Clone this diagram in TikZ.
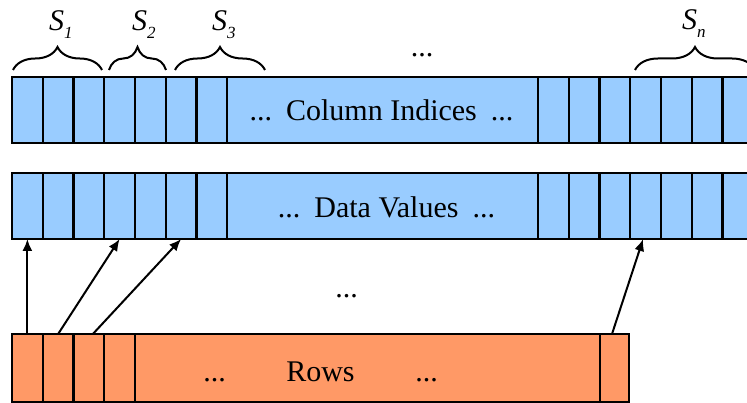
\documentclass[tikz,border=0pt]{standalone}
\usepackage{fontspec}
\setmainfont{Liberation Serif}
\usetikzlibrary{decorations.pathreplacing,arrows.meta,calc}
\definecolor{cellblue}{HTML}{99CCFF}
\definecolor{cellorange}{HTML}{FF9966}
\newcommand\bigtxt{\fontsize{30}{36}\selectfont}
\newcommand\slabel[1]{{\fontsize{30}{34}\selectfont\textit{S}}\raisebox{-8pt}{\fontsize{17}{19}\selectfont\textit{#1}}}
\newcommand\cellbar[4]{%
  \foreach \i in {1,...,7} {
    \node[cell, fill=#3, minimum height=#4] (#1L\i) at ({12+(\i-1)*30.75}, #2) {};
  }
  \node[cell, fill=#3, minimum height=#4, minimum width=310.75pt] (#1M) at (227.25,#2) {};
  \foreach \i in {1,...,7} {
    \node[cell, fill=#3, minimum height=#4] (#1R\i) at ({538+(\i-1)*30.75}, #2) {};
  }
}
\begin{document}
\begin{tikzpicture}[x=1pt,y=-1pt,
  cell/.style={draw=black, line width=2.3pt, anchor=north west, inner sep=0pt, outer sep=0pt, minimum width=30.75pt},
  txt/.style={anchor=base, inner sep=0pt, font=\bigtxt},
  slab/.style={anchor=base west, inner sep=0pt},
  brc/.style={decorate, decoration={brace, amplitude=23pt}, line width=2pt},
  arr/.style={-{Latex[length=12pt,width=10pt]}, line width=2pt}]
\clip (0,0) rectangle (747,403);
% column indices bar
\cellbar{c}{77}{cellblue}{66pt}
% data values bar
\cellbar{d}{173}{cellblue}{66pt}
% rows bar
\foreach \i in {1,...,4} {
  \node[cell, fill=cellorange, minimum height=68pt] (rL\i) at ({12+(\i-1)*30.75}, 334) {};
}
\node[cell, fill=cellorange, minimum height=68pt, minimum width=465pt] (rM) at (135,334) {};
\node[cell, fill=cellorange, minimum height=68pt, minimum width=29pt] (rR) at (600,334) {};
% texts
\node[txt] (coltext) at (381.5,121) {...\hspace{14pt}Column Indices\hspace{14pt}...};
\node[txt] (datatext) at (386.5,218) {...\hspace{14pt}Data Values\hspace{14pt}...};
\node[txt] (rowsdots1) at (214.5,381) {...};
\node[txt] (rowstext) at (320.5,381) {Rows};
\node[txt] (rowsdots2) at (426.5,381) {...};
\node[txt] (topdots) at (422,57) {...};
\node[txt] (middots) at (346.5,298) {...};
% braces
\draw[brc] (13,70) -- (102,70);
\draw[brc] (109,70) -- (166,70);
\draw[brc] (175,70) -- (265,70);
\draw[brc] (635,70) -- (755,70);
\node[slab] (s1) at (49,31) {\slabel{1}};
\node[slab] (s2) at (132,31) {\slabel{2}};
\node[slab] (s3) at (212,31) {\slabel{3}};
\node[slab] (sn) at (682,30) {\slabel{n}};
% arrows
\draw[arr] (rL1.north) -- (dL1.south);
\draw[arr] (rL2.north) -- (dL4.south);
\draw[arr] ([xshift=4pt]rL3.north) -- (dL6.south);
\draw[arr] ([xshift=-2.5pt]rR.north) -- ([xshift=-2.5pt]dR4.south);
\end{tikzpicture}
\end{document}
